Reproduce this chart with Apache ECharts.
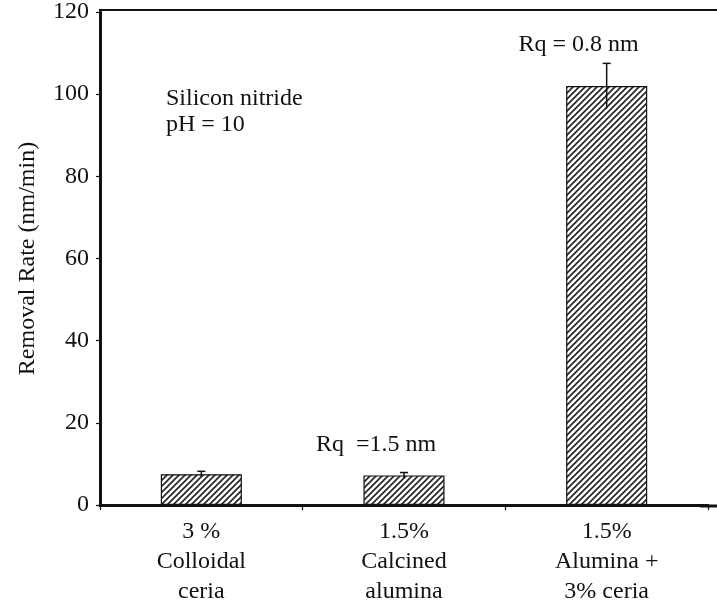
<!DOCTYPE html>
<html>
<head>
<meta charset="utf-8">
<script src="https://cdn.jsdelivr.net/npm/echarts@6/dist/echarts.min.js"></script>
<style>
  html, body { margin: 0; padding: 0; background: #fff; }
  #chart { width: 717px; height: 607px; }
</style>
</head>
<body>
<div id="chart"></div>
<script>
// Slurry categories and measured removal rates of silicon nitride
const categories = ['3 %\nColloidal\nceria', '1.5%\nCalcined\nalumina', '1.5%\nAlumina +\n3% ceria'];
const removalRate = [7.5, 7.2, 102];
const rateError = [0.7, 0.7, 5.5];

// Surface roughness notes: [category index, height on the rate axis, text]
const roughnessNotes = [
  [1, 14.7, 'Rq  =1.5 nm'],
  [2, 112, 'Rq = 0.8 nm']
];

const yTicks = { min: 0, max: 120, interval: 20 };

const FONT = 'Liberation Serif';
const INK = '#111';

// Diagonal hatch tile for the bars
function hatchPattern() {
  const s = 6;
  const c = document.createElement('canvas');
  c.width = s; c.height = s;
  const g = c.getContext('2d');
  g.fillStyle = '#fff';
  g.fillRect(0, 0, s, s);
  g.strokeStyle = '#222';
  g.lineWidth = 1.6;
  for (const k of [-s, 0, s]) {
    g.beginPath();
    g.moveTo(k - 1, s + 1);
    g.lineTo(k + s + 1, -1);
    g.stroke();
  }
  return c;
}

const chart = echarts.init(document.getElementById('chart'));

chart.setOption({
  animation: false,
  backgroundColor: '#fff',
  grid: { left: 100, right: 9, top: 10, bottom: 101, containLabel: false },
  xAxis: {
    type: 'category',
    data: categories,
    axisLine: { lineStyle: { color: INK, width: 3 } },
    axisTick: { show: true, length: 5, inside: false, lineStyle: { color: INK, width: 1.2 } },
    axisLabel: {
      color: INK, fontFamily: FONT, fontSize: 24, lineHeight: 30, margin: 12
    }
  },
  yAxis: {
    type: 'value',
    min: yTicks.min, max: yTicks.max, interval: yTicks.interval,
    name: 'Removal Rate (nm/min)',
    nameLocation: 'middle',
    nameGap: 60,
    nameTextStyle: { color: INK, fontFamily: FONT, fontSize: 24 },
    axisLine: { show: true, lineStyle: { color: INK, width: 3 } },
    axisTick: { show: true, length: 4, lineStyle: { color: INK, width: 1.2 } },
    splitLine: { show: false },
    axisLabel: { color: INK, fontFamily: FONT, fontSize: 24, margin: 11 }
  },
  graphic: [
    // frame line along the top and tail of the baseline
    { type: 'line', shape: { x1: 99, y1: 10, x2: 717, y2: 10 }, style: { stroke: INK, lineWidth: 2 } },
    { type: 'line', shape: { x1: 700, y1: 506, x2: 717, y2: 506 }, style: { stroke: INK, lineWidth: 3 } },
    {
      type: 'text', left: 166, top: 86,
      style: { text: 'Silicon nitride\npH = 10', fill: INK, font: '24px ' + FONT, lineHeight: 26 }
    }
  ],
  series: [
    {
      type: 'bar',
      data: removalRate,
      barWidth: '40%',
      itemStyle: {
        color: { image: hatchPattern(), repeat: 'repeat' },
        borderColor: INK,
        borderWidth: 1.2
      },
      z: 2
    },
    {
      // error bars
      type: 'custom',
      data: removalRate.map((v, i) => [i, v, rateError[i]]),
      renderItem: function (params, api) {
        const x = api.value(0), v = api.value(1), e = api.value(2);
        const top = api.coord([x, v + e]);
        const bot = api.coord([x, v - e]);
        const hw = 4;
        return {
          type: 'group',
          children: [
            { type: 'line', shape: { x1: top[0], y1: top[1], x2: bot[0], y2: bot[1] }, style: { stroke: INK, lineWidth: 1.5 } },
            { type: 'line', shape: { x1: top[0] - hw, y1: top[1], x2: top[0] + hw, y2: top[1] }, style: { stroke: INK, lineWidth: 1.5 } }
          ]
        };
      },
      z: 3
    },
    {
      // roughness annotations
      type: 'scatter',
      symbolSize: 0,
      itemStyle: { color: INK, opacity: 1 },
      data: roughnessNotes.map(n => ({ value: [n[0], n[1]], name: n[2] })),
      label: {
        show: true,
        position: 'inside',
        offset: [-28, 0],
        formatter: p => p.name,
        color: INK, fontFamily: FONT, fontSize: 24,
        textBorderWidth: 0, textBorderColor: 'transparent'
      },
      silent: true,
      z: 4
    }
  ]
});
</script>
</body>
</html>
